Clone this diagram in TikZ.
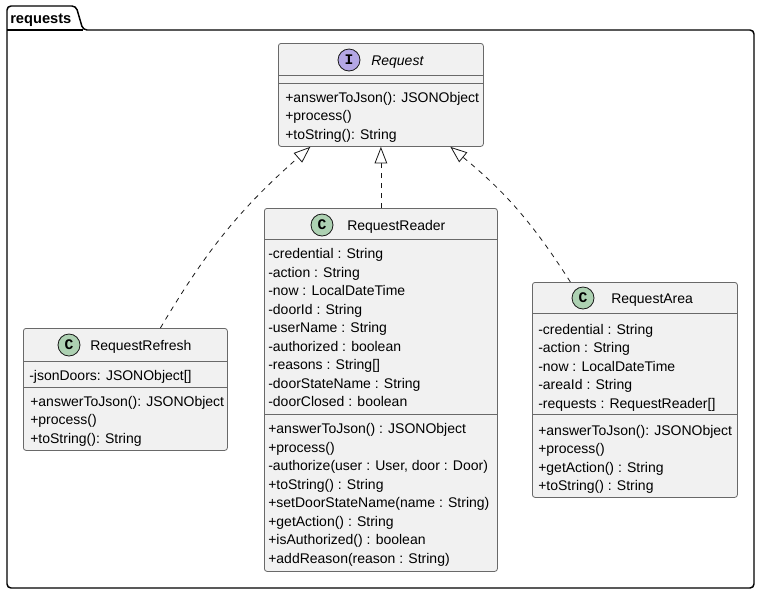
\documentclass[tikz,border=0pt]{standalone}
\usepackage{fontspec}
\setmainfont{Liberation Sans}
\newfontfamily\spotfont{Liberation Mono}
\usetikzlibrary{arrows.meta}
\definecolor{umlfill}{HTML}{F1F1F1}
\definecolor{umlline}{HTML}{181818}
\definecolor{umlgreen}{HTML}{ADD1B2}
\definecolor{umlpurple}{HTML}{B4A7E5}

\begin{document}
\begin{tikzpicture}[x=0.75pt, y=-0.75pt,
  pkgframe/.style={draw=black, line width=1.1pt},
  classbox/.style={draw=umlline!65, fill=umlfill, line width=0.6pt, rounded corners=2pt, anchor=north west, inner sep=0pt},
  sepline/.style={draw=umlline!65, line width=0.6pt},
  spot/.style={circle, draw=umlline, line width=0.6pt, minimum size=16.5pt, inner sep=0pt, font=\spotfont\fontsize{11}{12}\selectfont\bfseries},
  classname/.style={anchor=base west, inner sep=0pt, font=\fontsize{10.5}{12}\selectfont},
  member/.style={anchor=base west, inner sep=0pt, font=\fontsize{10.5}{12}\selectfont},
  realizes/.style={umlline, line width=0.6pt, dash pattern=on 3.75pt off 3.75pt, -{Triangle[length=12.5pt, width=9.5pt, fill=white]}}]
\useasboundingbox (0,0) rectangle (760,594);

% Package
\draw[pkgframe, rounded corners=3pt] (7,30) -- (7,6) -- (76,6) -- (83,30) -- (754,30) -- (754,588) -- (7,588) -- cycle;
\draw[pkgframe] (7,30) -- (83,30);
\node[anchor=base west, inner sep=0pt, font=\fontsize{11}{12}\selectfont\bfseries] (pkgname) at (10,23) {requests};

% Request interface
\node[classbox, minimum width=153.75pt, minimum height=77.25pt] (request) at (278,43) {};
\draw[sepline] (278,75) -- (483,75);
\draw[sepline] (278,83) -- (483,83);
\node[spot, fill=umlpurple] (requestspot) at (349,60) {I};
\node[classname, font=\fontsize{10.5}{12}\selectfont\itshape] (requestname) at (371,65) {Request};
\node[member] (reqm1) at (285,102) {+answerToJson(): JSONObject};
\node[member] (reqm2) at (285,120.5) {+process()};
\node[member] (reqm3) at (285,139) {+toString(): String};

% RequestRefresh
\node[classbox, minimum width=153pt, minimum height=91.5pt] (refresh) at (23,328) {};
\draw[sepline] (23,361) -- (227,361);
\draw[sepline] (23,387) -- (227,387);
\node[spot, fill=umlgreen] (refreshspot) at (69,345) {C};
\node[classname] (refreshname) at (90,350) {RequestRefresh};
\node[member] (refa1) at (29,380) {-jsonDoors: JSONObject[]};
\node[member] (refm1) at (30,406) {+answerToJson(): JSONObject};
\node[member] (refm2) at (30,424.5) {+process()};
\node[member] (refm3) at (30,443) {+toString(): String};

% RequestReader
\node[classbox, minimum width=174.75pt, minimum height=272.25pt] (reader) at (264,208) {};
\draw[sepline] (264,239) -- (497,239);
\draw[sepline] (264,414) -- (497,414);
\node[spot, fill=umlgreen] (readerspot) at (322,225) {C};
\node[classname] (readername) at (347,230) {RequestReader};
\node[member] (rda1) at (268,258.5) {-credential : String};
\node[member] (rda2) at (268,277) {-action : String};
\node[member] (rda3) at (268,295.5) {-now : LocalDateTime};
\node[member] (rda4) at (268,314) {-doorId : String};
\node[member] (rda5) at (268,332.5) {-userName : String};
\node[member] (rda6) at (268,351) {-authorized : boolean};
\node[member] (rda7) at (268,369.5) {-reasons : String[]};
\node[member] (rda8) at (268,388) {-doorStateName : String};
\node[member] (rda9) at (268,406.5) {-doorClosed : boolean};
\node[member] (rdm1) at (268,433.5) {+answerToJson() : JSONObject};
\node[member] (rdm2) at (268,452) {+process()};
\node[member] (rdm3) at (268,470.5) {-authorize(user : User, door : Door)};
\node[member] (rdm4) at (268,489) {+toString() : String};
\node[member] (rdm5) at (268,507.5) {+setDoorStateName(name : String)};
\node[member] (rdm6) at (268,526) {+getAction() : String};
\node[member] (rdm7) at (268,544.5) {+isAuthorized() : boolean};
\node[member] (rdm8) at (268,563) {+addReason(reason : String)};

% RequestArea
\node[classbox, minimum width=153.75pt, minimum height=161.25pt] (area) at (532,282) {};
\draw[sepline] (532,313) -- (737,313);
\draw[sepline] (532,414) -- (737,414);
\node[spot, fill=umlgreen] (areaspot) at (583,298) {C};
\node[classname] (areaname) at (611,303) {RequestArea};
\node[member] (ara1) at (538,334) {-credential : String};
\node[member] (ara2) at (538,352.5) {-action : String};
\node[member] (ara3) at (538,371) {-now : LocalDateTime};
\node[member] (ara4) at (538,389.5) {-areaId : String};
\node[member] (ara5) at (538,408) {-requests : RequestReader[]};
\node[member] (arm1) at (538,435) {+answerToJson(): JSONObject};
\node[member] (arm2) at (538,453.5) {+process()};
\node[member] (arm3) at (538,472) {+getAction() : String};
\node[member] (arm4) at (538,490.5) {+toString() : String};

% Realizations
\draw[realizes] ([xshift=26.25pt]refresh.north) to[bend left=9] ([xshift=-52.9pt]request.south);
\draw[realizes] (reader.north) -- (request.south);
\draw[realizes] ([xshift=-48.4pt]area.north) to[bend right=9] ([xshift=52.1pt]request.south);
\end{tikzpicture}
\end{document}
